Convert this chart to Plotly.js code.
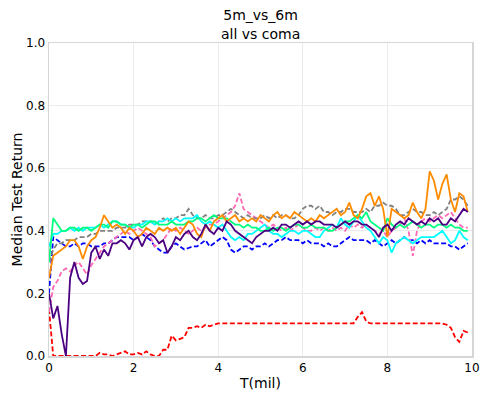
<!DOCTYPE html>
<html>
<head>
<meta charset="utf-8">
<script src="https://cdn.plot.ly/plotly-3.0.1.min.js"></script>
<style>html,body{margin:0;padding:0;background:#fff;}#chart{width:488px;height:399px;}</style>
</head>
<body>
<div id="chart"></div>
<script>
// T in millions of steps (0.0 .. 9.9)
const T = [0.0,0.1,0.2,0.3,0.4,0.5,0.6,0.7,0.8,0.9,
  1.0,1.1,1.2,1.3,1.4,1.5,1.6,1.7,1.8,1.9,
  2.0,2.1,2.2,2.3,2.4,2.5,2.6,2.7,2.8,2.9,
  3.0,3.1,3.2,3.3,3.4,3.5,3.6,3.7,3.8,3.9,
  4.0,4.1,4.2,4.3,4.4,4.5,4.6,4.7,4.8,4.9,
  5.0,5.1,5.2,5.3,5.4,5.5,5.6,5.7,5.8,5.9,
  6.0,6.1,6.2,6.3,6.4,6.5,6.6,6.7,6.8,6.9,
  7.0,7.1,7.2,7.3,7.4,7.5,7.6,7.7,7.8,7.9,
  8.0,8.1,8.2,8.3,8.4,8.5,8.6,8.7,8.8,8.9,
  9.0,9.1,9.2,9.3,9.4,9.5,9.6,9.7,9.8,9.9];

const orange = [0.25,0.32,0.33,0.34,0.35,0.37,0.37,0.35,0.31,0.35,
  0.37,0.38,0.41,0.45,0.43,0.41,0.42,0.41,0.39,0.41,
  0.40,0.38,0.39,0.41,0.40,0.39,0.41,0.40,0.41,0.40,
  0.41,0.39,0.41,0.43,0.42,0.39,0.38,0.42,0.40,0.43,
  0.44,0.45,0.43,0.44,0.45,0.43,0.44,0.43,0.44,0.43,
  0.45,0.44,0.43,0.45,0.46,0.44,0.45,0.44,0.46,0.45,
  0.44,0.43,0.44,0.43,0.45,0.44,0.45,0.46,0.47,0.45,
  0.46,0.49,0.45,0.44,0.47,0.51,0.52,0.48,0.51,0.47,
  0.38,0.47,0.46,0.45,0.44,0.45,0.49,0.46,0.44,0.47,
  0.59,0.56,0.50,0.55,0.58,0.50,0.46,0.52,0.51,0.46];

const gray = [0.30,0.34,0.36,0.36,0.37,0.37,0.37,0.38,0.38,0.38,
  0.39,0.39,0.40,0.40,0.40,0.40,0.41,0.41,0.41,0.42,
  0.42,0.42,0.43,0.43,0.43,0.42,0.43,0.44,0.43,0.44,
  0.44,0.45,0.45,0.47,0.45,0.44,0.44,0.45,0.44,0.44,
  0.45,0.45,0.46,0.47,0.46,0.45,0.44,0.45,0.44,0.44,
  0.44,0.45,0.44,0.45,0.44,0.45,0.45,0.44,0.44,0.45,
  0.47,0.48,0.48,0.47,0.48,0.46,0.46,0.45,0.46,0.46,
  0.47,0.47,0.46,0.46,0.46,0.47,0.46,0.48,0.48,0.49,
  0.48,0.48,0.47,0.45,0.45,0.46,0.47,0.46,0.46,0.45,
  0.45,0.46,0.45,0.46,0.47,0.50,0.50,0.51,0.50,0.48];

const green = [0.30,0.44,0.42,0.40,0.40,0.41,0.41,0.40,0.41,0.41,
  0.40,0.41,0.42,0.42,0.41,0.43,0.43,0.42,0.42,0.41,
  0.42,0.42,0.41,0.42,0.43,0.43,0.42,0.42,0.42,0.43,
  0.42,0.42,0.42,0.43,0.43,0.44,0.44,0.43,0.44,0.45,
  0.44,0.44,0.44,0.43,0.42,0.42,0.41,0.42,0.41,0.41,
  0.40,0.40,0.41,0.40,0.41,0.41,0.40,0.41,0.42,0.42,
  0.41,0.41,0.42,0.41,0.41,0.41,0.40,0.40,0.41,0.42,
  0.43,0.43,0.44,0.45,0.44,0.46,0.43,0.42,0.41,0.40,
  0.44,0.42,0.41,0.42,0.41,0.42,0.43,0.42,0.41,0.42,
  0.42,0.41,0.42,0.42,0.41,0.42,0.41,0.41,0.40,0.40];

const cyan = [0.35,0.39,0.39,0.40,0.40,0.41,0.40,0.41,0.40,0.41,
  0.41,0.41,0.42,0.41,0.42,0.43,0.43,0.42,0.42,0.41,
  0.41,0.42,0.42,0.43,0.43,0.42,0.43,0.43,0.44,0.43,
  0.44,0.43,0.44,0.44,0.44,0.45,0.43,0.42,0.43,0.42,
  0.41,0.42,0.40,0.38,0.37,0.38,0.37,0.39,0.39,0.40,
  0.41,0.42,0.40,0.39,0.39,0.38,0.39,0.40,0.40,0.39,
  0.40,0.40,0.39,0.38,0.38,0.40,0.41,0.42,0.41,0.44,
  0.42,0.41,0.43,0.45,0.43,0.41,0.40,0.38,0.36,0.38,
  0.37,0.33,0.36,0.37,0.38,0.37,0.36,0.37,0.38,0.38,
  0.38,0.38,0.39,0.40,0.38,0.36,0.37,0.40,0.38,0.37];

const blue = [0.20,0.38,0.37,0.36,0.35,0.35,0.36,0.35,0.36,0.36,
  0.35,0.35,0.35,0.36,0.36,0.37,0.38,0.38,0.38,0.38,
  0.37,0.38,0.39,0.38,0.37,0.35,0.34,0.33,0.33,0.35,
  0.36,0.35,0.34,0.345,0.35,0.35,0.36,0.37,0.35,0.36,
  0.37,0.38,0.37,0.34,0.33,0.34,0.35,0.35,0.34,0.35,
  0.35,0.36,0.35,0.36,0.37,0.37,0.38,0.37,0.37,0.37,
  0.36,0.37,0.36,0.36,0.36,0.35,0.36,0.35,0.35,0.36,
  0.37,0.38,0.37,0.37,0.37,0.37,0.36,0.37,0.36,0.35,
  0.36,0.37,0.36,0.37,0.38,0.37,0.37,0.36,0.37,0.36,
  0.37,0.36,0.36,0.36,0.36,0.35,0.35,0.34,0.35,0.36];

const purple = [0.20,0.12,0.16,0.07,0.00,0.25,0.30,0.25,0.23,0.24,
  0.33,0.35,0.31,0.34,0.32,0.36,0.36,0.37,0.36,0.34,
  0.37,0.38,0.35,0.38,0.39,0.38,0.36,0.37,0.33,0.35,
  0.38,0.37,0.39,0.40,0.38,0.37,0.39,0.42,0.40,0.39,
  0.41,0.40,0.43,0.42,0.40,0.39,0.38,0.37,0.36,0.38,
  0.39,0.40,0.40,0.41,0.40,0.42,0.42,0.41,0.42,0.43,
  0.42,0.43,0.42,0.43,0.43,0.42,0.42,0.42,0.41,0.42,
  0.43,0.42,0.43,0.43,0.42,0.42,0.41,0.40,0.38,0.41,
  0.42,0.40,0.42,0.43,0.42,0.44,0.43,0.42,0.43,0.42,
  0.44,0.43,0.44,0.42,0.42,0.44,0.43,0.45,0.47,0.46];

const pink = [0.14,0.22,0.24,0.27,0.28,0.27,0.29,0.30,0.28,0.26,
  0.29,0.31,0.33,0.35,0.36,0.37,0.38,0.39,0.40,0.39,
  0.40,0.41,0.40,0.39,0.38,0.35,0.36,0.37,0.39,0.41,
  0.40,0.41,0.40,0.39,0.40,0.41,0.40,0.41,0.42,0.42,
  0.43,0.44,0.45,0.46,0.48,0.52,0.47,0.46,0.45,0.44,
  0.43,0.42,0.41,0.42,0.41,0.40,0.41,0.40,0.41,0.42,
  0.41,0.40,0.40,0.41,0.40,0.41,0.40,0.41,0.40,0.41,
  0.40,0.42,0.41,0.42,0.41,0.42,0.41,0.40,0.39,0.40,
  0.38,0.40,0.41,0.42,0.44,0.40,0.32,0.40,0.43,0.44,
  0.43,0.44,0.45,0.44,0.45,0.46,0.44,0.42,0.41,0.41];

const red = [0.15,0.00,0.00,0.00,0.00,0.00,0.00,0.00,0.00,0.00,
  0.00,0.00,0.01,0.005,0.005,0.00,0.005,0.01,0.015,0.005,
  0.005,0.01,0.005,0.015,0.005,0.00,0.00,0.02,0.02,0.065,
  0.05,0.055,0.06,0.09,0.09,0.095,0.09,0.10,0.095,0.10,
  0.104,0.104,0.104,0.103,0.104,0.104,0.104,0.104,0.104,0.104,
  0.104,0.104,0.103,0.104,0.104,0.104,0.104,0.105,0.104,0.104,
  0.104,0.104,0.104,0.104,0.104,0.104,0.104,0.104,0.104,0.104,
  0.104,0.104,0.104,0.125,0.14,0.11,0.104,0.104,0.103,0.104,
  0.104,0.104,0.104,0.104,0.104,0.104,0.104,0.104,0.104,0.104,
  0.104,0.104,0.104,0.104,0.10,0.09,0.06,0.045,0.08,0.075];

const seriesList = [
  {y: red,    color: '#ff0000', dash: '5px,2.5px'},
  {y: blue,   color: '#0000ff', dash: '5px,2.5px'},
  {y: pink,   color: '#ff69b4', dash: '5px,2.5px'},
  {y: gray,   color: '#808080', dash: '5px,2.5px'},
  {y: cyan,   color: '#00ffff', dash: 'solid'},
  {y: green,  color: '#00ff7f', dash: 'solid'},
  {y: orange, color: '#ff8c00', dash: 'solid'},
  {y: purple, color: '#4b0082', dash: 'solid'}
];

const traces = seriesList.map(s => ({
  x: T, y: s.y, type: 'scatter', mode: 'lines',
  line: {color: s.color, width: 1.8, dash: s.dash},
  showlegend: false, hoverinfo: 'skip'
}));

const font = {family: 'DejaVu Sans', size: 12, color: '#000'};
const layout = {
  width: 488, height: 399,
  margin: {l: 49, r: 16, t: 43, b: 43},
  paper_bgcolor: '#fff', plot_bgcolor: '#fff',
  font: font,
  title: {text: '5m_vs_6m<br>all vs coma', x: 0.534, xref: 'container', yref: 'container',
          y: 0.949, yanchor: 'middle', xanchor: 'center',
          font: {family: 'DejaVu Sans', size: 14, color: '#000'}},
  xaxis: {
    range: [0, 10], dtick: 2, tick0: 0,
    showgrid: true, gridcolor: '#ebebeb', gridwidth: 1,
    showline: true, linecolor: '#d6d6d6', linewidth: 1.5, mirror: true,
    zeroline: false, ticks: '', ticklen: 0,
    tickfont: {family: 'DejaVu Sans', size: 12, color: '#000'},
    title: {text: 'T(mil)', font: {family: 'DejaVu Sans', size: 14, color: '#000'}, standoff: 4}
  },
  yaxis: {
    range: [0, 1], dtick: 0.2, tick0: 0, tickformat: '.1f',
    showgrid: true, gridcolor: '#ebebeb', gridwidth: 1,
    showline: true, linecolor: '#d6d6d6', linewidth: 1.5, mirror: true,
    zeroline: false, ticks: '', ticklen: 0,
    tickfont: {family: 'DejaVu Sans', size: 12, color: '#000'},
    title: {text: 'Median Test Return', font: {family: 'DejaVu Sans', size: 14, color: '#000'}, standoff: 0}
  }
};

Plotly.newPlot('chart', traces, layout, {staticPlot: true, displayModeBar: false});
</script>
</body>
</html>
